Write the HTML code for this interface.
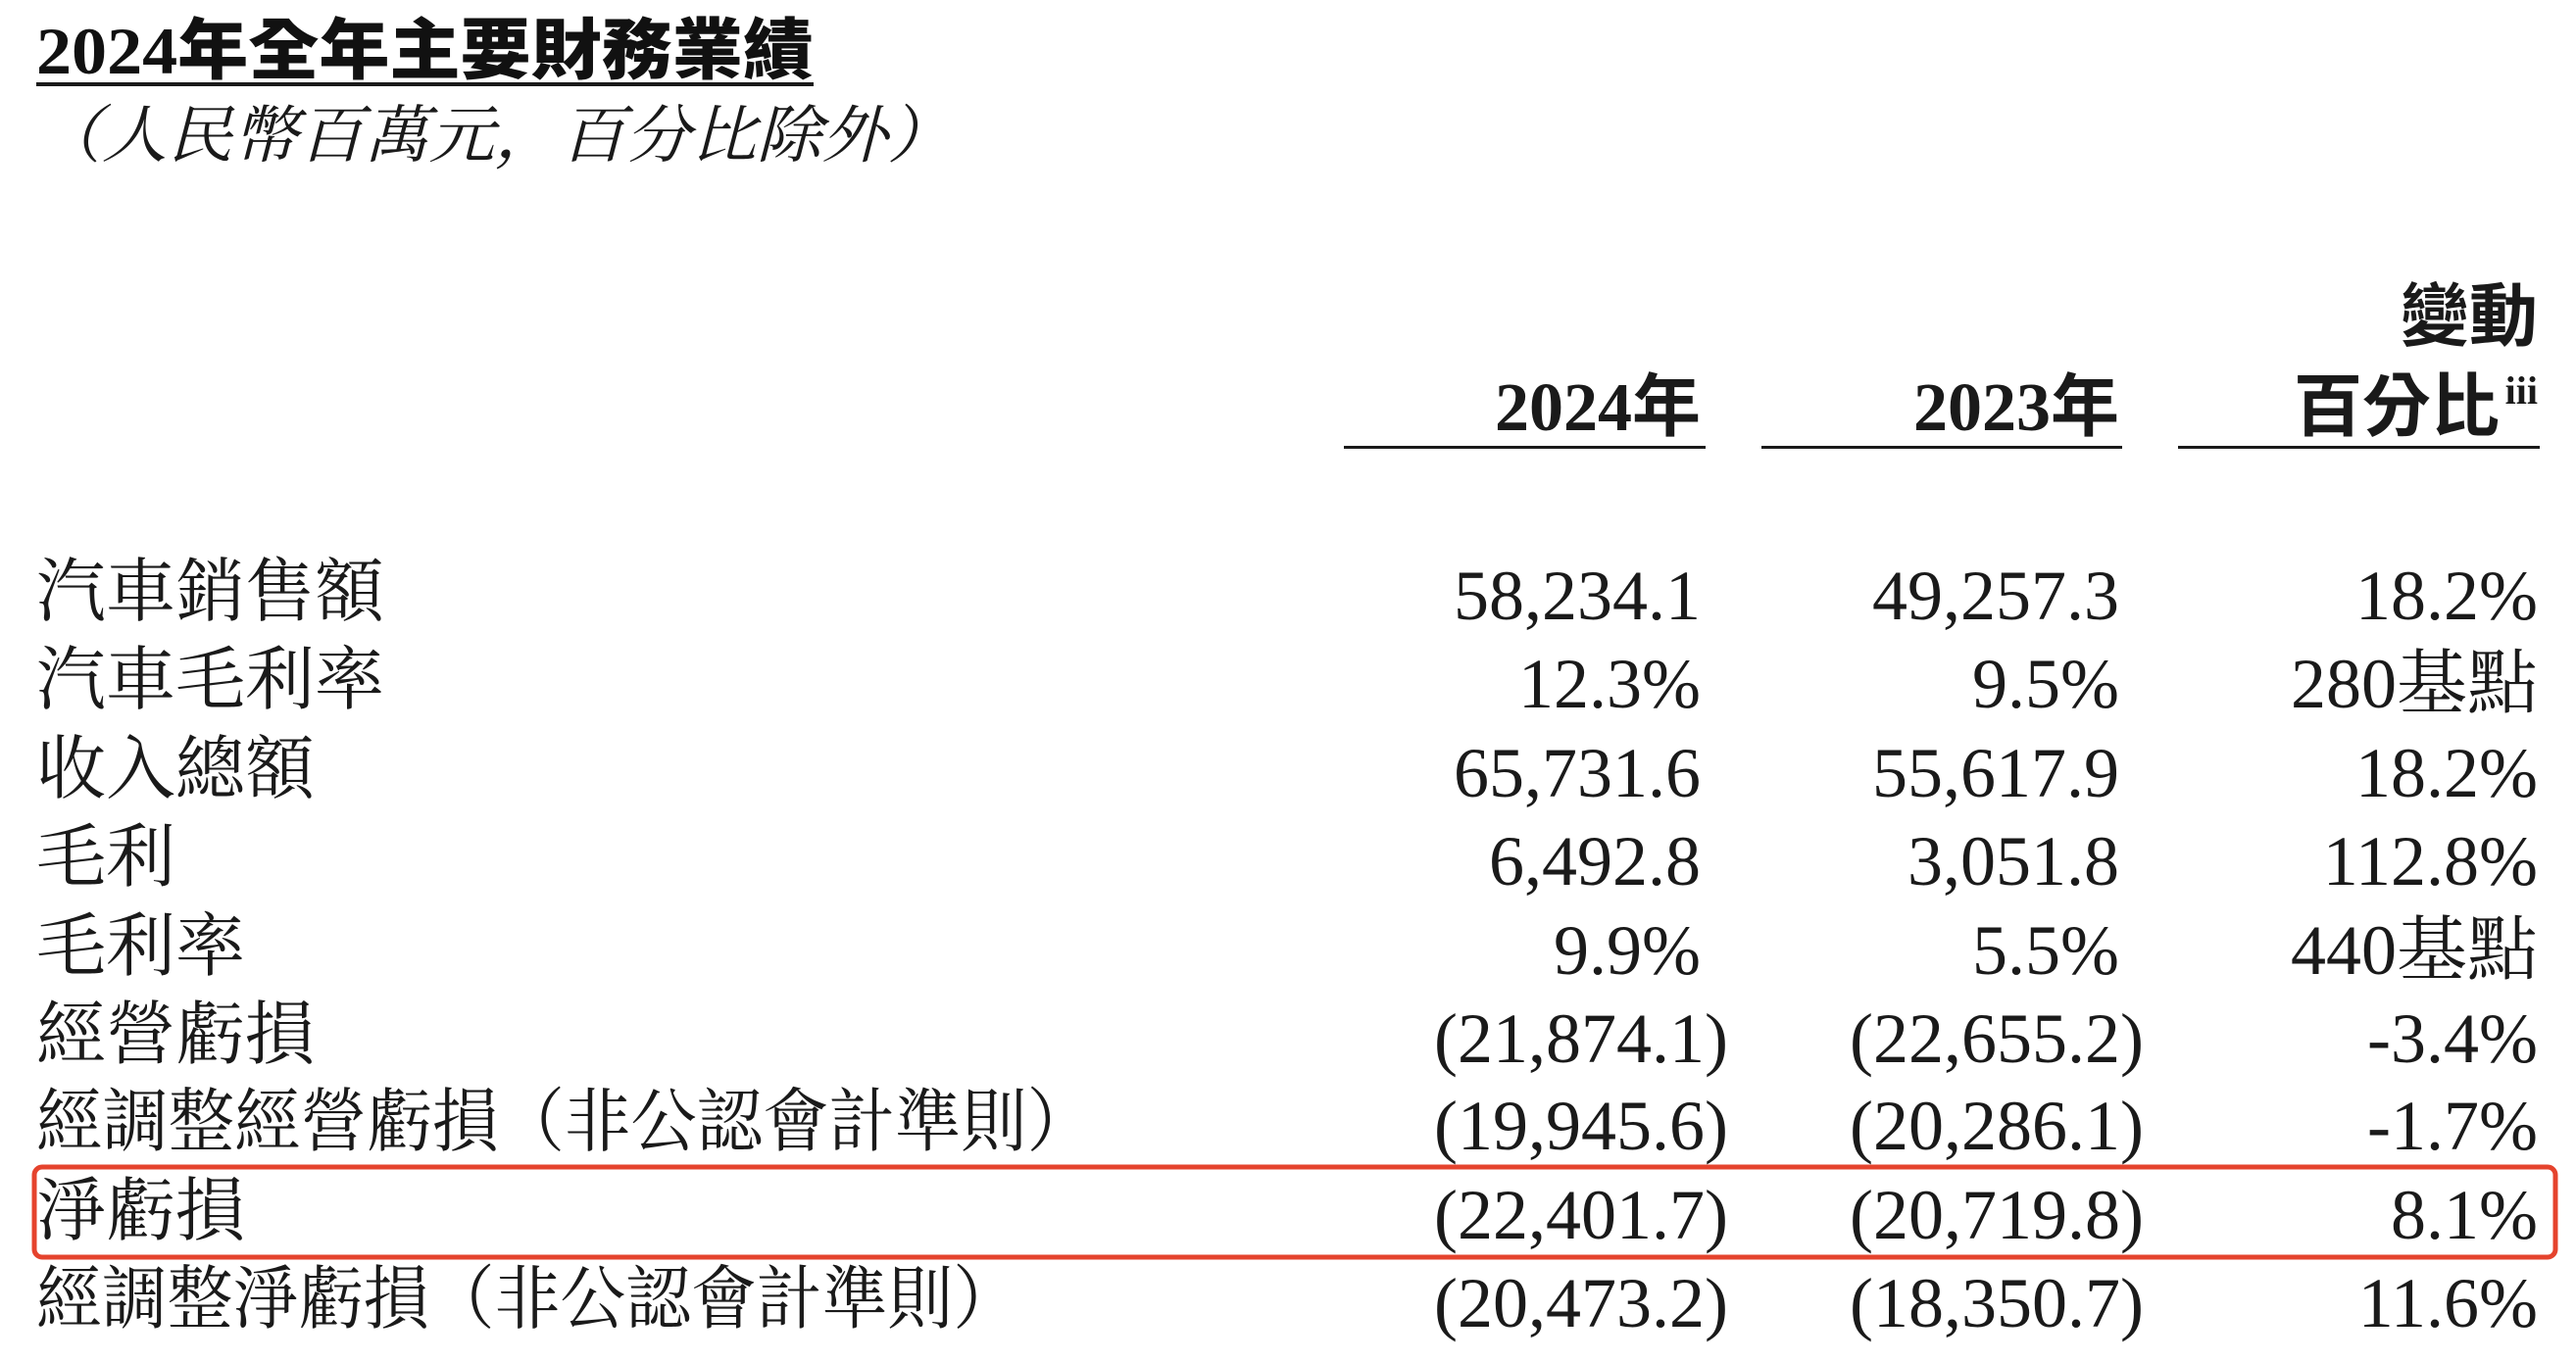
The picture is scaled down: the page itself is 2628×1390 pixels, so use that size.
<!DOCTYPE html>
<html><head><meta charset="utf-8"><style>
html,body{margin:0;padding:0;background:#fff;}
svg{display:block}
.lab{font-family:"Liberation Serif","Noto Serif CJK SC",serif;font-size:71px;fill:#1a1a1a}
.num{font-family:"Liberation Serif","Noto Serif CJK SC",serif;font-size:72px;fill:#1a1a1a}
.hd{font-family:"Liberation Serif","Noto Sans CJK TC",sans-serif;font-size:70px;font-weight:bold;fill:#1a1a1a}
</style></head><body>
<svg width="2628" height="1390" viewBox="0 0 2628 1390" xmlns="http://www.w3.org/2000/svg">
<rect width="2628" height="1390" fill="#fff"/>
<text x="37" y="75" textLength="793" lengthAdjust="spacingAndGlyphs" style="font-family:'Liberation Serif','Noto Sans CJK TC',sans-serif;font-size:68px;font-weight:900;fill:#111">2024年全年主要財務業績</text>
<rect x="37" y="84" width="793" height="4" fill="#1a1a1a"/>
<text x="37" y="160" textLength="935" lengthAdjust="spacingAndGlyphs" style="font-family:'Noto Serif CJK SC',serif;font-size:64px;font-style:italic;fill:#1a1a1a">（人民幣百萬元，百分比除外）</text>

<text class="hd" x="2589" y="347" text-anchor="end">變動</text>
<text class="hd" x="1735" y="439" text-anchor="end">2024年</text>
<text class="hd" x="2162" y="439" text-anchor="end">2023年</text>
<text class="hd" x="2550" y="439" text-anchor="end">百分比</text>
<text x="2589" y="412" text-anchor="end" style="font-family:'Liberation Serif',serif;font-size:40px;font-weight:bold;fill:#1a1a1a">iii</text>
<rect x="1371" y="455" width="369" height="3" fill="#1a1a1a"/>
<rect x="1797" y="455" width="368" height="3" fill="#1a1a1a"/>
<rect x="2222" y="455" width="369" height="3" fill="#1a1a1a"/>

<rect x="35" y="1191" width="2572" height="92" rx="8" fill="none" stroke="#e5432d" stroke-width="5"/>

<g class="lab">
<text x="37" y="628">汽車銷售額</text>
<text x="37" y="718">汽車毛利率</text>
<text x="37" y="809">收入總額</text>
<text x="37" y="899">毛利</text>
<text x="37" y="990">毛利率</text>
<text x="37" y="1080">經營虧損</text>
<text x="37" y="1169" textLength="1078" lengthAdjust="spacingAndGlyphs" style="font-family:'Noto Serif CJK SC',serif">經調整經營虧損（非公認會計準則）</text>
<text x="37" y="1260">淨虧損</text>
<text x="37" y="1350" textLength="1002" lengthAdjust="spacingAndGlyphs" style="font-family:'Noto Serif CJK SC',serif">經調整淨虧損（非公認會計準則）</text>
</g>
<g class="num" text-anchor="end">
<text x="1735" y="632">58,234.1</text><text x="2162" y="632">49,257.3</text><text x="2589" y="632">18.2%</text>
<text x="1735" y="722">12.3%</text><text x="2162" y="722">9.5%</text><text x="2589" y="722">280基點</text>
<text x="1735" y="813">65,731.6</text><text x="2162" y="813">55,617.9</text><text x="2589" y="813">18.2%</text>
<text x="1735" y="903">6,492.8</text><text x="2162" y="903">3,051.8</text><text x="2589" y="903">112.8%</text>
<text x="1735" y="994">9.9%</text><text x="2162" y="994">5.5%</text><text x="2589" y="994">440基點</text>
<text x="1763" y="1084">(21,874.1)</text><text x="2187" y="1084">(22,655.2)</text><text x="2589" y="1084">-3.4%</text>
<text x="1763" y="1173">(19,945.6)</text><text x="2187" y="1173">(20,286.1)</text><text x="2589" y="1173">-1.7%</text>
<text x="1763" y="1264">(22,401.7)</text><text x="2187" y="1264">(20,719.8)</text><text x="2589" y="1264">8.1%</text>
<text x="1763" y="1354">(20,473.2)</text><text x="2187" y="1354">(18,350.7)</text><text x="2589" y="1354">11.6%</text>
</g>
</svg>
</body></html>
